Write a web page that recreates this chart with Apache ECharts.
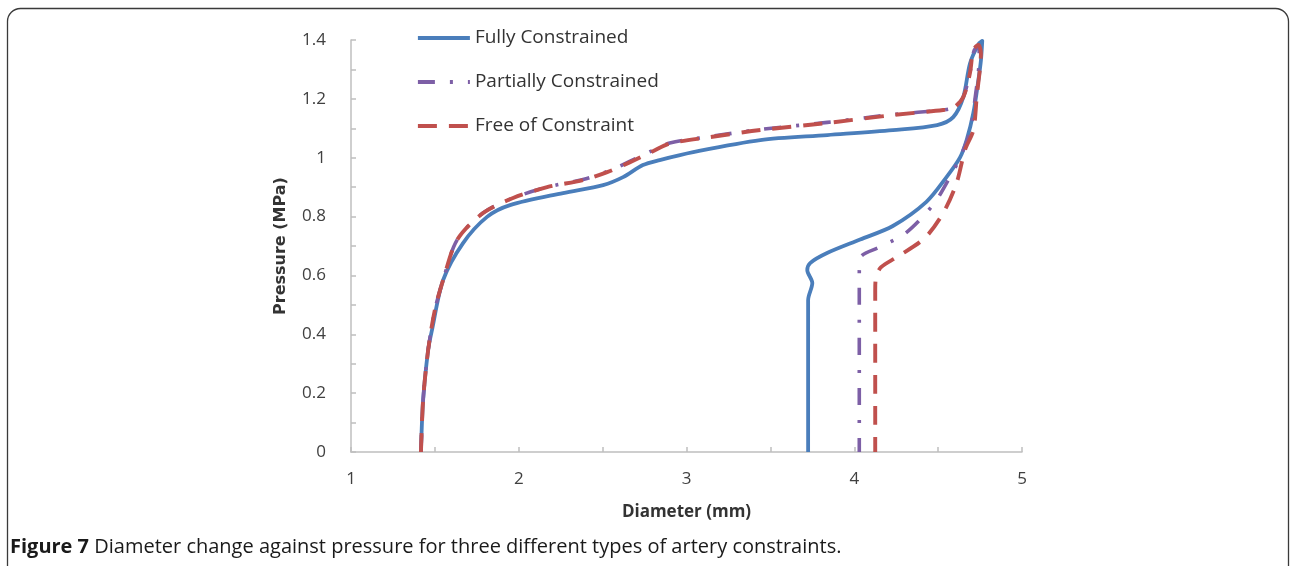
<!DOCTYPE html>
<html>
<head>
<meta charset="utf-8">
<script src="https://cdn.jsdelivr.net/npm/echarts@6/dist/echarts.min.js"></script>
<style>
  html, body { margin: 0; padding: 0; background: #ffffff; }
  #chart { width: 1290px; height: 566px; }
</style>
</head>
<body>
<div id="chart"></div>
<script>
// Pressure–diameter response of an artery under three boundary conditions.
// Each point is [diameter (mm), pressure (MPa)], loading up to the peak then unloading.
const seriesNames = ['Fully Constrained', 'Partially Constrained', 'Free of Constraint'];

const fullyConstrained = [
  [1.417, 0], [1.43, 0.177], [1.46, 0.347], [1.483, 0.415], [1.549, 0.584],
  [1.668, 0.71], [1.811, 0.799], [1.948, 0.839], [2.264, 0.88], [2.503, 0.907],
  [2.622, 0.934], [2.74, 0.975], [2.84, 0.992], [3.04, 1.019], [3.44, 1.06],
  [3.84, 1.077], [4.23, 1.094], [4.494, 1.111], [4.59, 1.138], [4.65, 1.206],
  [4.69, 1.32], [4.74, 1.385], [4.763, 1.397], [4.755, 1.33], [4.74, 1.264],
  [4.71, 1.152], [4.67, 1.06], [4.63, 1.0], [4.55, 0.934], [4.43, 0.85],
  [4.23, 0.768], [4.035, 0.722], [3.838, 0.676], [3.737, 0.642], [3.72, 0.618],
  [3.75, 0.574], [3.725, 0.516], [3.725, 0]
];

const partiallyConstrained = [
  [1.417, 0], [1.43, 0.177], [1.46, 0.347], [1.5, 0.483], [1.549, 0.584],
  [1.632, 0.72], [1.787, 0.812], [1.966, 0.863], [2.169, 0.9], [2.383, 0.926],
  [2.527, 0.953], [2.664, 0.988], [2.8, 1.025], [2.9, 1.05], [3.14, 1.072],
  [3.44, 1.096], [3.84, 1.12], [4.23, 1.147], [4.53, 1.162], [4.6, 1.172],
  [4.65, 1.206], [4.69, 1.29], [4.715, 1.365], [4.74, 1.38], [4.745, 1.34],
  [4.72, 1.2], [4.69, 1.09], [4.63, 1.0], [4.57, 0.934], [4.49, 0.856],
  [4.39, 0.788], [4.29, 0.737], [4.154, 0.697], [4.035, 0.659], [4.03, 0.6],
  [4.03, 0]
];

const freeOfConstraint = [
  [1.417, 0], [1.43, 0.177], [1.46, 0.347], [1.5, 0.483], [1.549, 0.584],
  [1.632, 0.72], [1.787, 0.812], [1.966, 0.863], [2.169, 0.9], [2.383, 0.924],
  [2.527, 0.951], [2.664, 0.985], [2.8, 1.022], [2.9, 1.048], [3.14, 1.07],
  [3.44, 1.094], [3.84, 1.118], [4.23, 1.145], [4.53, 1.162], [4.59, 1.169],
  [4.65, 1.206], [4.69, 1.288], [4.71, 1.366], [4.74, 1.383], [4.755, 1.356],
  [4.73, 1.206], [4.71, 1.094], [4.66, 1.026], [4.61, 0.914], [4.53, 0.812],
  [4.42, 0.727], [4.256, 0.663], [4.16, 0.628], [4.13, 0.594], [4.125, 0.55],
  [4.125, 0]
];

const xTickLabels = ['1', '2', '3', '4', '5'];
const yTickLabels = ['0', '0.2', '0.4', '0.6', '0.8', '1', '1.2', '1.4'];

const captionBold = 'Figure 7';
const captionText = 'Diameter change against pressure for three different types of artery constraints.';

const FONT = '"Open Sans", "Liberation Sans", sans-serif';
const axisGrey = '#bfbfbf';
const labelColor = '#404040';

const chart = echarts.init(document.getElementById('chart'), null, { renderer: 'canvas' });

function lineSeries(name, data, color, width, dash) {
  return {
    name: name,
    type: 'line',
    data: data,
    symbol: 'none',
    smooth: 0.3,
    lineStyle: { color: color, width: width, type: dash, cap: 'butt', join: 'round' },
    itemStyle: { color: color },
    emphasis: { disabled: true },
    animation: false
  };
}

chart.setOption({
  backgroundColor: '#ffffff',
  animation: false,
  title: {
    left: 10,
    top: 536,
    padding: 0,
    text: '{b|' + captionBold + '} ' + captionText,
    textStyle: {
      fontFamily: FONT,
      fontSize: 20,
      lineHeight: 22,
      fontWeight: 'normal',
      color: '#1a1a1a',
      rich: {
        b: { fontFamily: FONT, fontSize: 20, lineHeight: 22, fontWeight: 'bold', color: '#1a1a1a' }
      }
    }
  },
  graphic: [{
    type: 'rect',
    silent: true,
    shape: { x: 7.5, y: 8.5, width: 1281, height: 600, r: 13 },
    style: { fill: 'none', stroke: '#3a3a3a', lineWidth: 1.3 }
  }],
  legend: {
    orient: 'vertical',
    left: 416,
    top: 28,
    padding: 0,
    itemWidth: 52,
    itemHeight: 14,
    itemGap: 24,
    data: seriesNames,
    selectedMode: false,
    itemStyle: { opacity: 0 },
    lineStyle: { width: 3.8 },
    textStyle: { fontFamily: FONT, fontSize: 19, color: '#333333', lineHeight: 20 }
  },
  grid: { left: 351, top: 40, right: 268, bottom: 114, containLabel: false },
  xAxis: {
    type: 'value',
    min: 1,
    max: 5,
    interval: 0.5,
    name: 'Diameter (mm)',
    nameLocation: 'middle',
    nameGap: 52,
    nameTextStyle: { fontFamily: FONT, fontSize: 17, fontWeight: 'bold', color: '#333333' },
    axisLine: { lineStyle: { color: axisGrey, width: 1.5 } },
    axisTick: { inside: true, length: 5, lineStyle: { color: axisGrey, width: 1.5 } },
    axisLabel: {
      margin: 19,
      fontFamily: FONT,
      fontSize: 17,
      color: labelColor,
      formatter: function (v) {
        const i = Math.round(v * 2);
        return i % 2 === 0 ? xTickLabels[i / 2 - 1] : '';
      }
    },
    splitLine: { show: false }
  },
  yAxis: {
    type: 'value',
    min: 0,
    max: 1.4,
    interval: 0.1,
    name: 'Pressure (MPa)',
    nameLocation: 'middle',
    nameGap: 62,
    nameTextStyle: {
      fontFamily: '"DejaVu Sans", sans-serif', fontSize: 16, fontWeight: 'bold', color: '#333333'
    },
    axisLine: { show: true, lineStyle: { color: axisGrey, width: 1.5 } },
    axisTick: { show: true, inside: true, length: 5, lineStyle: { color: axisGrey, width: 1.5 } },
    axisLabel: {
      margin: 25,
      fontFamily: FONT,
      fontSize: 17,
      color: labelColor,
      formatter: function (v) {
        const i = Math.round(v * 10);
        return i % 2 === 0 ? yTickLabels[i / 2] : '';
      }
    },
    splitLine: { show: false }
  },
  series: [
    lineSeries(seriesNames[0], fullyConstrained, '#4a7ebb', 3.8, 'solid'),
    lineSeries(seriesNames[1], partiallyConstrained, '#7d5fa6', 3.6, [17, 15, 3, 15]),
    lineSeries(seriesNames[2], freeOfConstraint, '#c0504d', 3.9, [19, 12])
  ]
});
</script>
</body>
</html>
